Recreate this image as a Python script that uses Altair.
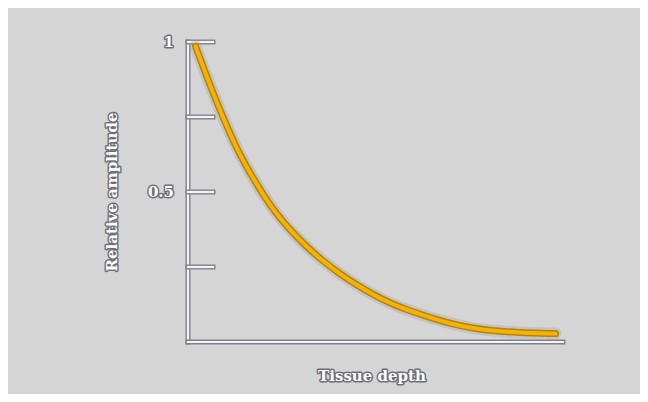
import altair as alt
import pandas as pd

# Curve (depth in arbitrary units 0..10, relative amplitude 0..1)
depth = [0.2, 0.45, 0.72, 1.0, 1.25, 1.52, 1.8, 2.05, 2.32, 2.65, 3.17, 3.6, 4.05, 4.5,
         4.95, 5.4, 5.85, 6.3, 6.7, 7.15, 7.6, 8.05, 8.8, 9.8]
amplitude = [0.986, 0.902, 0.813, 0.73, 0.658, 0.593, 0.533, 0.483, 0.434, 0.383, 0.316, 0.27,
             0.227, 0.19, 0.157, 0.129, 0.107, 0.088, 0.072, 0.057, 0.046, 0.038, 0.031, 0.028]

tick_values = [0.25, 0.5, 0.75, 1.0]
label_values = [0.5, 1.0]
label_texts = ["0.5", "1"]
x_title = ["Tissue depth"]
y_title = ["Relative amplitude"]
x_range = [0, 10]
y_range = [0, 1]

BG = "#d5d5d5"
FONT = "DejaVu Serif"

curve = pd.DataFrame({"depth": depth, "amp": amplitude})
ticks = pd.DataFrame({"v": tick_values, "x0": [x_range[0]] * len(tick_values)})
labels = pd.DataFrame({"v": label_values, "t": label_texts})
xt = pd.DataFrame({"t": x_title})
yt = pd.DataFrame({"t": y_title})
frame = pd.DataFrame({"x0": [x_range[0]], "x1": [x_range[1]], "y0": [y_range[0]], "y1": [y_range[1]]})

xs = alt.Scale(domain=x_range, nice=False, zero=False)
ys = alt.Scale(domain=y_range, nice=False, zero=False)


def X(f):
    return alt.X(f, type="quantitative", scale=xs, axis=None)


def Y(f):
    return alt.Y(f, type="quantitative", scale=ys, axis=None)


def yaxis_line(color, w):
    return alt.Chart(frame).mark_rule(color=color, strokeWidth=w, strokeCap="square").encode(
        x=X("x0"), y=Y("y0"), y2="y1")


def xaxis_line(color, w):
    return alt.Chart(frame).mark_rule(color=color, strokeWidth=w, strokeCap="square").encode(
        y=Y("y0"), x=X("x0"), x2="x1")


def tick_lines(color, w):
    return alt.Chart(ticks).mark_rule(color=color, strokeWidth=w, strokeCap="square").encode(
        y=Y("v"), x=X("x0"), x2=alt.value(25))


def pair(fn):
    return [fn("#80808c", 5), fn("#f4f4f6", 2.2)]


line_kw = dict(interpolate="basis", strokeCap="round", strokeJoin="round")
shadow = alt.Chart(curve).mark_line(color="#9a9aa8", strokeWidth=12, opacity=0.3, **line_kw).encode(
    x=X("depth"), y=Y("amp"))
outer = alt.Chart(curve).mark_line(color="#b98300", strokeWidth=7, **line_kw).encode(
    x=X("depth"), y=Y("amp"))
inner = alt.Chart(curve).mark_line(color="#f2b20c", strokeWidth=4, **line_kw).encode(
    x=X("depth"), y=Y("amp"))


def emboss(df, enc, **kw):
    back = alt.Chart(df).mark_text(font=FONT, fontWeight="bold", fill="#ffffff", stroke="#6e6e78",
                                   strokeWidth=3, strokeJoin="round", **kw).encode(**enc)
    front = alt.Chart(df).mark_text(font=FONT, fontWeight="bold", fill="#ffffff", **kw).encode(**enc)
    return [back, front]


lab = emboss(labels, dict(y=Y("v"), x=alt.value(-14), text="t:N"),
             fontSize=15, align="right", baseline="middle")
xtl = emboss(xt, dict(x=alt.value(184), y=alt.value(334), text="t:N"),
             fontSize=15, align="center", baseline="middle")
ytl = emboss(yt, dict(x=alt.value(-76), y=alt.value(150), text="t:N"),
             fontSize=15, align="center", baseline="middle", angle=270)

layers = pair(yaxis_line) + pair(xaxis_line) + pair(tick_lines) + [shadow, outer, inner] + lab + xtl + ytl

chart = alt.layer(*layers).properties(
    width=375, height=300,
    background=BG,
    padding={"left": 180, "top": 34, "right": 77, "bottom": 52},
    autosize=alt.AutoSizeParams(type="none"),
).configure_view(stroke=None)

chart.save("out.html", embed_options={"renderer": "svg", "actions": False})
